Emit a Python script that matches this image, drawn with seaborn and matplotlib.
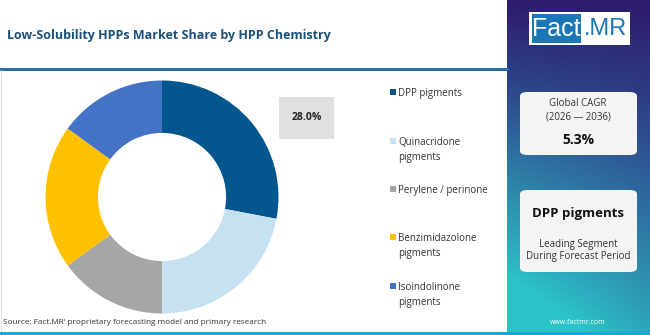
import numpy as np
import matplotlib
matplotlib.use("Agg")
import matplotlib.pyplot as plt
import seaborn as sns
from matplotlib.patches import Rectangle, FancyBboxPatch
from matplotlib.colors import LinearSegmentedColormap

# ---- data ----
categories = ["DPP pigments", "Quinacridone pigments", "Perylene / perinone",
              "Benzimidazolone pigments", "Isoindolinone pigments"]
legend_labels = ["DPP pigments", "Quinacridone\npigments", "Perylene / perinone",
                 "Benzimidazolone\npigments", "Isoindolinone\npigments"]
shares = [28.0, 22.0, 15.0, 20.0, 15.0]
colors = ["#03578e", "#c5e1f2", "#a6a6a6", "#ffc000", "#4472c4"]
title = "Low-Solubility HPPs Market Share by HPP Chemistry"
highlight_label = "28.0%"
cagr_value = "5.3%"
cagr_period = "(2026 \u2014 2036)"
leading_segment = "DPP pigments"
source = "Source: Fact.MR' proprietary forecasting model and primary research"

sns.set_theme(style="white")
plt.rcParams['font.family'] = ['Open Sans', 'DejaVu Sans']

W, H = 650, 335
fig = plt.figure(figsize=(W / 100, H / 100), dpi=100)
fig.patch.set_facecolor("white")

def fx(x): return x / W
def fy(y): return 1 - y / H

# ---- right gradient panel ----
pax = fig.add_axes([fx(507), 0, 1 - fx(507), 1])
ny, nx = 200, 60
yy, xx = np.mgrid[0:1:ny*1j, 0:1:nx*1j]
t = np.clip(0.85 * yy + 0.35 * (1 - xx) * yy, 0, 1)
cmap = LinearSegmentedColormap.from_list("g", ["#2f1a6c", "#2d4a8e", "#2f86ab", "#2cc3c8"])
pax.imshow(t, cmap=cmap, aspect="auto", extent=[0, 1, 1, 0], origin="upper")
pax.set_xlim(0, 1); pax.set_ylim(1, 0)
pax.axis("off")

def box(x0, y0, x1, y1, fc, r=0.012):
    p = FancyBboxPatch((fx(x0), fy(y1)), fx(x1 - x0), (y1 - y0) / H,
                       boxstyle=f"round,pad=0,rounding_size={r}",
                       transform=fig.transFigure, fc=fc, ec="none", zorder=3)
    fig.patches.append(p)

# logo
fig.patches.append(Rectangle((fx(529), fy(45)), fx(101), 33 / H,
                             transform=fig.transFigure, fc="white", ec="none", zorder=3))
fig.patches.append(Rectangle((fx(532), fy(43)), fx(49), 29 / H,
                             transform=fig.transFigure, fc="#1a76b4", ec="none", zorder=4))
fig.text(fx(556), fy(29), "Fact", color="white", fontsize=18, ha="center", va="center",
         zorder=5, family=["Liberation Sans Narrow", "Liberation Sans", "DejaVu Sans"])
fig.text(fx(606), fy(29), ".MR", color="#1a76b4", fontsize=17, ha="center", va="center",
         zorder=5, family=["Liberation Sans", "DejaVu Sans"])

box(520, 92, 637, 155, "#f4f4f4")
fig.text(fx(578), fy(104), "Global CAGR", fontsize=7, color="#333333", ha="center", va="center", zorder=5)
fig.text(fx(578), fy(117), cagr_period, fontsize=7, color="#333333", ha="center", va="center", zorder=5)
fig.text(fx(578), fy(140), cagr_value, fontsize=10, weight="bold", color="#111111", ha="center", va="center", zorder=5)

box(520, 190, 637, 272, "#f4f4f4")
fig.text(fx(578), fy(213), leading_segment, fontsize=9.5, weight="bold", color="#111111", ha="center", va="center", zorder=5)
fig.text(fx(578), fy(244), "Leading Segment", fontsize=7, color="#333333", ha="center", va="center", zorder=5)
fig.text(fx(578), fy(257), "During Forecast Period", fontsize=7, color="#333333", ha="center", va="center", zorder=5)

fig.text(fx(578), fy(323), "www.factmr.com", fontsize=5, color="white", ha="center", va="center", zorder=5)

# ---- header ----
fig.text(fx(7), fy(36), title, fontsize=9, weight="bold", color="#1b4f7c", ha="left", va="center")
fig.add_artist(plt.Line2D([0, fx(507)], [fy(69), fy(69)], transform=fig.transFigure,
                          color="#2a6ea6", lw=2.2))
fig.add_artist(plt.Line2D([fx(1), fx(1)], [fy(70), fy(331)], transform=fig.transFigure,
                          color="#dddddd", lw=0.8))
fig.patches.append(Rectangle((0, 0), 1, 3 / H, transform=fig.transFigure,
                             fc="#1ba6da", ec="none", zorder=6))

# ---- donut ----
cx, cy, R = 162, 197, 116.5
ax = fig.add_axes([fx(cx - R), fy(cy + R), fx(2 * R), 2 * R / H])
ax.pie(shares, colors=colors, startangle=90, counterclock=False,
       wedgeprops=dict(width=0.45, edgecolor="none"))
ax.set_xlim(-1, 1); ax.set_ylim(-1, 1)
ax.axis("off")

# highlight label box
fig.patches.append(Rectangle((fx(279), fy(139)), fx(55), 42 / H,
                             transform=fig.transFigure, fc="#e0e0e0", ec="none", zorder=3))
fig.text(fx(306.5), fy(118), highlight_label, fontsize=7.5, weight="bold", color="#222222",
         ha="center", va="center", zorder=4)

# ---- legend ----
leg_y = [92, 141, 189, 237, 286]
for lab, c, y in zip(legend_labels, colors, leg_y):
    fig.patches.append(Rectangle((fx(390), fy(y + 3)), fx(6), 6 / H,
                                 transform=fig.transFigure, fc=c, ec="none"))
    fig.text(fx(398), fy(y - 4), lab, fontsize=7, color="#333333", ha="left", va="top",
             linespacing=1.55)

# source
fig.text(fx(3), fy(322), source, fontsize=5.9, color="#333333", ha="left", va="center")

fig.savefig("out.png", dpi=100)
